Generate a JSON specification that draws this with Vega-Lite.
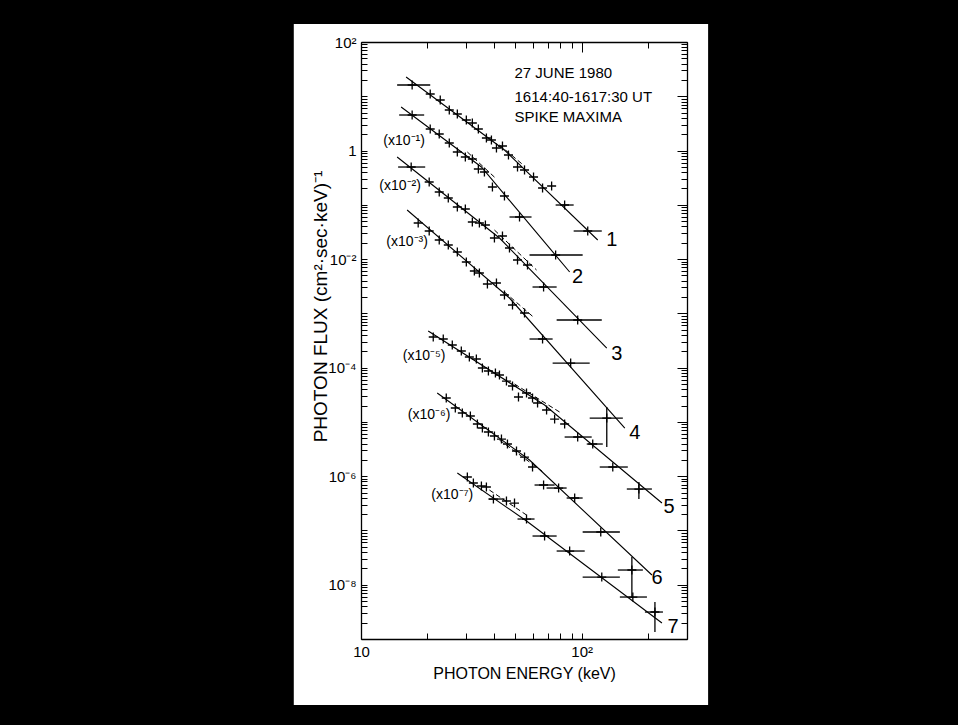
{
  "$schema": "https://vega.github.io/schema/vega-lite/v6.json",
  "width": 326,
  "height": 597,
  "autosize": {"type": "none"},
  "padding": {"left": 361, "top": 42, "right": 271, "bottom": 86},
  "background": "black",
  "config": {"view": {"stroke": null}, "font": "Liberation Sans"},
  "datasets": {
    "pts": [
      {"s":1,"E":17.05,"F":16.13},{"s":1,"E":20.59,"F":11.01},{"s":1,"E":22.86,"F":8.538},{"s":1,"E":25.12,"F":5.585},{"s":1,"E":27.32,"F":4.714},{"s":1,"E":30.01,"F":3.653},{"s":1,"E":31.95,"F":3.217},{"s":1,"E":34.02,"F":2.494},{"s":1,"E":37.0,"F":1.703},{"s":1,"E":38.99,"F":1.564},{"s":1,"E":41.09,"F":1.114},{"s":1,"E":43.75,"F":1.212},{"s":1,"E":46.58,"F":0.8275},{"s":1,"E":51.19,"F":0.4971},{"s":1,"E":55.07,"F":0.4379},{"s":1,"E":60.5,"F":0.3254},{"s":1,"E":66.48,"F":0.204},{"s":1,"E":73.07,"F":0.2221},{"s":1,"E":83.69,"F":0.0992},{"s":1,"E":106.5,"F":0.03292},
      {"s":2,"E":17.05,"F":4.517},{"s":2,"E":20.59,"F":2.494},{"s":2,"E":22.62,"F":2.017},{"s":2,"E":25.12,"F":1.377},{"s":2,"E":27.32,"F":0.94},{"s":2,"E":29.7,"F":0.7603},{"s":2,"E":31.95,"F":0.6984},{"s":2,"E":34.02,"F":0.4569},{"s":2,"E":36.24,"F":0.4024},{"s":2,"E":39.4,"F":0.2129},{"s":2,"E":44.67,"F":0.1453},{"s":2,"E":52.27,"F":0.05963},{"s":2,"E":76.19,"F":0.01189},
      {"s":3,"E":16.88,"F":0.4971},{"s":3,"E":20.37,"F":0.2632},{"s":3,"E":22.62,"F":0.1722},{"s":3,"E":24.86,"F":0.1335},{"s":3,"E":27.32,"F":0.09112},{"s":3,"E":29.7,"F":0.08373},{"s":3,"E":31.95,"F":0.04823},{"s":3,"E":34.39,"F":0.04623},{"s":3,"E":36.61,"F":0.04246},{"s":3,"E":40.23,"F":0.02445},{"s":3,"E":43.75,"F":0.02662},{"s":3,"E":47.07,"F":0.016},{"s":3,"E":51.19,"F":0.009618},{"s":3,"E":56.82,"F":0.007777},{"s":3,"E":67.19,"F":0.003059},{"s":3,"E":95.9,"F":0.0007543},
      {"s":4,"E":18.16,"F":0.04623},{"s":4,"E":20.37,"F":0.03292},{"s":4,"E":22.62,"F":0.02246},{"s":4,"E":24.86,"F":0.01817},{"s":4,"E":27.32,"F":0.0135},{"s":4,"E":30.01,"F":0.008835},{"s":4,"E":32.63,"F":0.00603},{"s":4,"E":34.39,"F":0.005539},{"s":4,"E":37.39,"F":0.003474},{"s":4,"E":41.09,"F":0.003624},{"s":4,"E":44.67,"F":0.002178},{"s":4,"E":48.58,"F":0.001425},{"s":4,"E":55.07,"F":0.001015},{"s":4,"E":66.48,"F":0.0003368},{"s":4,"E":89.13,"F":0.0001216},{"s":4,"E":129.9,"F":0.00001179},
      {"s":5,"E":21.25,"F":0.0003666},{"s":5,"E":23.59,"F":0.0003368},{"s":5,"E":25.92,"F":0.0002611},{"s":5,"E":28.48,"F":0.0002025},{"s":5,"E":30.97,"F":0.0001569},{"s":5,"E":33.32,"F":0.0001442},{"s":5,"E":35.48,"F":0.0000984},{"s":5,"E":37.78,"F":0.00008663},{"s":5,"E":40.65,"F":0.00007959},{"s":5,"E":42.4,"F":0.00007311},{"s":5,"E":45.61,"F":0.00005666},{"s":5,"E":48.58,"F":0.00004584},{"s":5,"E":51.71,"F":0.00002875},{"s":5,"E":56.23,"F":0.00003406},{"s":5,"E":59.87,"F":0.00002756},{"s":5,"E":63.1,"F":0.00002229},{"s":5,"E":69.32,"F":0.00001656},{"s":5,"E":75.39,"F":0.0000113},{"s":5,"E":83.69,"F":0.000009144},{"s":5,"E":95.9,"F":0.000005267},{"s":5,"E":112.2,"F":0.000003914},{"s":5,"E":138.3,"F":0.000001475},{"s":5,"E":181.6,"F":5.799e-7},
      {"s":6,"E":24.34,"F":0.00002756},{"s":6,"E":26.75,"F":0.00001803},{"s":6,"E":28.78,"F":0.00001458},{"s":6,"E":31.3,"F":0.00001284},{"s":6,"E":33.68,"F":0.000009144},{"s":6,"E":35.48,"F":0.000007717},{"s":6,"E":37.78,"F":0.000006512},{"s":6,"E":40.23,"F":0.000005495},{"s":6,"E":43.29,"F":0.000004837},{"s":6,"E":46.09,"F":0.000003914},{"s":6,"E":50.65,"F":0.000002908},{"s":6,"E":55.07,"F":0.000002254},{"s":6,"E":59.87,"F":0.000001475},{"s":6,"E":67.19,"F":6.874e-7},{"s":6,"E":78.6,"F":6.05e-7},{"s":6,"E":92.94,"F":3.959e-7},{"s":6,"E":122.0,"F":9.356e-8},{"s":6,"E":168.8,"F":1.866e-8},
      {"s":7,"E":30.33,"F":9.65e-7},{"s":7,"E":32.3,"F":7.482e-7},{"s":7,"E":35.12,"F":6.588e-7},{"s":7,"E":37.0,"F":6.313e-7},{"s":7,"E":39.81,"F":3.794e-7},{"s":7,"E":45.61,"F":3.486e-7},{"s":7,"E":49.61,"F":3.2e-7},{"s":7,"E":56.23,"F":1.624e-7},{"s":7,"E":67.89,"F":7.896e-8},{"s":7,"E":88.19,"F":4.178e-8},{"s":7,"E":123.3,"F":1.386e-8},{"s":7,"E":170.5,"F":5.934e-9},{"s":7,"E":214.7,"F":3.141e-9}
    ],
    "hbars": [
      {"s":1,"F":16.13,"Elo":14.58,"Ehi":20.59},{"s":1,"F":0.0992,"Elo":76.19,"Ehi":91.96},{"s":1,"F":0.03292,"Elo":91.96,"Ehi":123.3},
      {"s":2,"F":4.517,"Elo":14.89,"Ehi":19.33},{"s":2,"F":0.05963,"Elo":47.07,"Ehi":59.25},{"s":2,"F":0.01189,"Elo":58.02,"Ehi":101.0},
      {"s":3,"F":0.4971,"Elo":14.73,"Ehi":19.54},{"s":3,"F":0.003059,"Elo":59.87,"Ehi":77.0},{"s":3,"F":0.0007543,"Elo":77.0,"Ehi":123.3},
      {"s":4,"F":0.0003368,"Elo":58.02,"Ehi":73.84},{"s":4,"F":0.0001216,"Elo":73.84,"Ehi":108.7},{"s":4,"F":0.00001179,"Elo":108.7,"Ehi":153.6},
      {"s":5,"F":0.000005267,"Elo":83.69,"Ehi":111.0},{"s":5,"F":0.000003914,"Elo":105.4,"Ehi":124.6},{"s":5,"F":0.000001475,"Elo":120.7,"Ehi":161.8},{"s":5,"F":5.799e-7,"Elo":160.1,"Ehi":208.0},
      {"s":6,"F":6.874e-7,"Elo":61.14,"Ehi":75.39},{"s":6,"F":6.05e-7,"Elo":69.32,"Ehi":85.46},{"s":6,"F":3.959e-7,"Elo":85.46,"Ehi":101.0},{"s":6,"F":9.356e-8,"Elo":101.0,"Ehi":148.9},{"s":6,"F":1.866e-8,"Elo":145.8,"Ehi":189.3},
      {"s":7,"F":3.794e-7,"Elo":37.78,"Ehi":44.67},{"s":7,"F":1.624e-7,"Elo":51.19,"Ehi":61.14},{"s":7,"F":7.896e-8,"Elo":59.87,"Ehi":77.0},{"s":7,"F":4.178e-8,"Elo":77.0,"Ehi":103.2},{"s":7,"F":1.386e-8,"Elo":101.0,"Ehi":148.9},{"s":7,"F":5.934e-9,"Elo":148.9,"Ehi":197.5},{"s":7,"F":3.141e-9,"Elo":193.4,"Ehi":233.4}
    ],
    "vbars": [
      {"s":4,"E":129.9,"Flo":0.000003446,"Fhi":0.00001881},
      {"s":5,"E":181.6,"Flo":3.794e-7,"Fhi":7.807e-7},
      {"s":6,"E":168.8,"Flo":5.687e-9,"Fhi":3.238e-8},
      {"s":7,"E":214.7,"Flo":1.344e-9,"Fhi":4.8e-9}
    ],
    "fits": [
      {"s":1,"E":16.01,"F":22.65},{"s":1,"E":44.67,"F":1.023},{"s":1,"E":118.2,"F":0.02246},
      {"s":2,"E":15.2,"F":6.342},{"s":2,"E":35.12,"F":0.4971},{"s":2,"E":88.19,"F":0.005779},
      {"s":3,"E":14.58,"F":0.7603},{"s":3,"E":42.4,"F":0.02445},{"s":3,"E":129.9,"F":0.0002299},
      {"s":4,"E":16.18,"F":0.08025},{"s":4,"E":47.07,"F":0.001918},{"s":4,"E":156.8,"F":0.000007717},
      {"s":5,"E":20.16,"F":0.0004729},{"s":5,"E":67.89,"F":0.00002048},{"s":5,"E":231.0,"F":3.2e-7},
      {"s":6,"E":22.15,"F":0.00003406},{"s":6,"E":58.02,"F":0.000001985},{"s":6,"E":208.0,"F":1.51e-8},
      {"s":7,"E":27.32,"F":0.000001143},{"s":7,"E":56.23,"F":1.492e-7},{"s":7,"E":231.0,"F":1.97e-9}
    ],
    "ext": [
      {"s":1,"E":42.4,"F":1.265},{"s":1,"E":55.07,"F":0.519},
      {"s":2,"E":30.33,"F":0.94},{"s":2,"E":40.65,"F":0.3119},
      {"s":3,"E":40.23,"F":0.03433},{"s":3,"E":62.44,"F":0.006291},
      {"s":4,"E":44.67,"F":0.002474},{"s":4,"E":61.14,"F":0.0008209},
      {"s":5,"E":49.61,"F":0.00004991},{"s":5,"E":79.43,"F":0.00001521},
      {"s":6,"E":42.4,"F":0.000004637},{"s":6,"E":67.89,"F":0.000001143},
      {"s":7,"E":38.18,"F":5.559e-7},{"s":7,"E":56.23,"F":1.924e-7}
    ],
    "nums": [
      {"t":"1","E":136.9,"F":0.02246},{"t":"2","E":95.9,"F":0.004675},{"t":"3","E":144.2,"F":0.0001782},{"t":"4","E":174.1,"F":0.000006243},{"t":"5","E":248.6,"F":2.703e-7},{"t":"6","E":219.3,"F":1.328e-8},{"t":"7","E":259.2,"F":1.662e-9}
    ],
    "mults": [
      {"t":"(x10⁻¹)","E":15.68,"F":1.499},{"t":"(x10⁻²)","E":15.04,"F":0.2221},{"t":"(x10⁻³)","E":16.18,"F":0.02064},{"t":"(x10⁻⁵)","E":19.33,"F":0.0001637},{"t":"(x10⁻⁶)","E":20.37,"F":0.00001339},{"t":"(x10⁻⁷)","E":25.92,"F":4.495e-7}
    ],
    "notes": [
      {"t":"27 JUNE 1980","E":49.61,"F":26.84},{"t":"1614:40-1617:30 UT","E":49.61,"F":9.696},{"t":"SPIKE MAXIMA","E":49.61,"F":4.15}
    ]
  },
  "layer": [
    {
      "data": {"values": [{}]},
      "mark": {"type": "rect", "color": "white"},
      "encoding": {
        "x": {"datum": 4.96, "type": "quantitative", "scale": {"type": "log", "domain": [10, 300]}, "axis": null},
        "x2": {"datum": 373.9},
        "y": {"datum": 214.7, "type": "quantitative", "scale": {"type": "log", "domain": [1e-9, 100]}, "axis": null},
        "y2": {"datum": 6.07e-11}
      }
    },
    {
      "data": {"name": "fits"},
      "mark": {"type": "line", "color": "black", "strokeWidth": 1.1},
      "encoding": {
        "x": {"field": "E", "type": "quantitative", "scale": {"type": "log", "domain": [10, 300]},
          "axis": {"orient": "bottom", "zindex": 2, "values": [10,20,30,40,50,60,70,80,90,100,200,300],
            "labelExpr": "datum.value==10?'10':datum.value==100?'10²':''",
            "tickSize": -6, "tickColor": "black", "tickWidth": 1, "domainColor": "black", "domainWidth": 1.3,
            "labelColor": "black", "labelFont": "Liberation Sans", "labelFontSize": 15, "labelPadding": 11,
            "labelFlush": false, "labelOverlap": false, "grid": false,
            "title": "PHOTON ENERGY (keV)", "titleFont": "Liberation Sans", "titleFontSize": 16, "titleFontWeight": "normal", "titleColor": "black", "titlePadding": 6}},
        "y": {"field": "F", "type": "quantitative", "scale": {"type": "log", "domain": [1e-9, 100]},
          "axis": {"orient": "left", "zindex": 2,
            "values": [1e-9,2e-9,3e-9,4e-9,5e-9,6e-9,7e-9,8e-9,9e-9,1e-8,2e-8,3e-8,4e-8,5e-8,6e-8,7e-8,8e-8,9e-8,1e-7,2e-7,3e-7,4e-7,5e-7,6e-7,7e-7,8e-7,9e-7,1e-6,2e-6,3e-6,4e-6,5e-6,6e-6,7e-6,8e-6,9e-6,1e-5,2e-5,3e-5,4e-5,5e-5,6e-5,7e-5,8e-5,9e-5,1e-4,2e-4,3e-4,4e-4,5e-4,6e-4,7e-4,8e-4,9e-4,1e-3,2e-3,3e-3,4e-3,5e-3,6e-3,7e-3,8e-3,9e-3,1e-2,2e-2,3e-2,4e-2,5e-2,6e-2,7e-2,8e-2,9e-2,0.1,0.2,0.3,0.4,0.5,0.6,0.7,0.8,0.9,1,2,3,4,5,6,7,8,9,10,20,30,40,50,60,70,80,90,100],
            "labelExpr": "datum.value==100?'10²':datum.value==1?'1':datum.value==0.01?'10⁻²':datum.value==0.0001?'10⁻⁴':datum.value==0.000001?'10⁻⁶':datum.value==0.00000001?'10⁻⁸':''",
            "tickSize": -6, "tickColor": "black", "tickWidth": 1, "domainColor": "black", "domainWidth": 1.3,
            "labelColor": "black", "labelFont": "Liberation Sans", "labelFontSize": 15, "labelPadding": 11,
            "labelFlush": false, "labelOverlap": false, "grid": false,
            "title": "PHOTON FLUX (cm²·sec·keV)⁻¹", "titleFont": "Liberation Sans", "titleFontSize": 19, "titleFontWeight": "normal", "titleColor": "black",
            "titleX": -41, "titleY": 264, "titleAngle": -90, "titleAlign": "center", "titleBaseline": "middle"}},
        "detail": {"field": "s"}
      }
    },
    {
      "data": {"name": "ext"},
      "mark": {"type": "line", "color": "black", "strokeWidth": 1, "strokeDash": [5, 3]},
      "encoding": {
        "x": {"field": "E", "type": "quantitative", "scale": {"type": "log", "domain": [10, 300]}, "axis": null},
        "y": {"field": "F", "type": "quantitative", "scale": {"type": "log", "domain": [1e-9, 100]}, "axis": null},
        "detail": {"field": "s"}
      }
    },
    {
      "data": {"name": "hbars"},
      "mark": {"type": "rule", "color": "black", "strokeWidth": 1.3},
      "encoding": {
        "x": {"field": "Elo", "type": "quantitative", "scale": {"type": "log", "domain": [10, 300]}, "axis": null},
        "x2": {"field": "Ehi"},
        "y": {"field": "F", "type": "quantitative", "scale": {"type": "log", "domain": [1e-9, 100]}, "axis": null}
      }
    },
    {
      "data": {"name": "vbars"},
      "mark": {"type": "rule", "color": "black", "strokeWidth": 1.3},
      "encoding": {
        "x": {"field": "E", "type": "quantitative", "scale": {"type": "log", "domain": [10, 300]}, "axis": null},
        "y": {"field": "Flo", "type": "quantitative", "scale": {"type": "log", "domain": [1e-9, 100]}, "axis": null},
        "y2": {"field": "Fhi"}
      }
    },
    {
      "data": {"name": "pts"},
      "mark": {"type": "point", "shape": "M-1,0L1,0M0,-1L0,1", "size": 81, "filled": false, "stroke": "black", "strokeWidth": 1.3, "opacity": 1},
      "encoding": {
        "x": {"field": "E", "type": "quantitative", "scale": {"type": "log", "domain": [10, 300]},
          "axis": {"orient": "top", "zindex": 2, "values": [10,20,30,40,50,60,70,80,90,100,200,300], "labels": false, "title": null,
            "tickSize": {"condition": {"test": "datum.value==10||datum.value==100", "value": -10}, "value": -6}, "tickColor": "black", "domainColor": "black", "domainWidth": 1.3, "grid": false}},
        "y": {"field": "F", "type": "quantitative", "scale": {"type": "log", "domain": [1e-9, 100]},
          "axis": {"orient": "right", "zindex": 2,
            "values": [1e-9,2e-9,3e-9,4e-9,5e-9,6e-9,7e-9,8e-9,9e-9,1e-8,2e-8,3e-8,4e-8,5e-8,6e-8,7e-8,8e-8,9e-8,1e-7,2e-7,3e-7,4e-7,5e-7,6e-7,7e-7,8e-7,9e-7,1e-6,2e-6,3e-6,4e-6,5e-6,6e-6,7e-6,8e-6,9e-6,1e-5,2e-5,3e-5,4e-5,5e-5,6e-5,7e-5,8e-5,9e-5,1e-4,2e-4,3e-4,4e-4,5e-4,6e-4,7e-4,8e-4,9e-4,1e-3,2e-3,3e-3,4e-3,5e-3,6e-3,7e-3,8e-3,9e-3,1e-2,2e-2,3e-2,4e-2,5e-2,6e-2,7e-2,8e-2,9e-2,0.1,0.2,0.3,0.4,0.5,0.6,0.7,0.8,0.9,1,2,3,4,5,6,7,8,9,10,20,30,40,50,60,70,80,90,100],
            "labels": false, "title": null,
            "tickSize": {"condition": {"test": "abs(log(datum.value)/LN10 - round(log(datum.value)/LN10)) < 0.001", "value": -10}, "value": -6},
            "tickColor": "black", "domainColor": "black", "domainWidth": 1.3, "grid": false}}
      }
    },
    {
      "data": {"name": "nums"},
      "mark": {"type": "text", "color": "black", "font": "Liberation Sans", "fontSize": 20, "align": "center", "baseline": "middle"},
      "encoding": {
        "x": {"field": "E", "type": "quantitative", "scale": {"type": "log", "domain": [10, 300]}, "axis": null},
        "y": {"field": "F", "type": "quantitative", "scale": {"type": "log", "domain": [1e-9, 100]}, "axis": null},
        "text": {"field": "t"}
      }
    },
    {
      "data": {"name": "mults"},
      "mark": {"type": "text", "color": "black", "font": "Liberation Sans", "fontSize": 14, "align": "center", "baseline": "middle"},
      "encoding": {
        "x": {"field": "E", "type": "quantitative", "scale": {"type": "log", "domain": [10, 300]}, "axis": null},
        "y": {"field": "F", "type": "quantitative", "scale": {"type": "log", "domain": [1e-9, 100]}, "axis": null},
        "text": {"field": "t"}
      }
    },
    {
      "data": {"name": "notes"},
      "mark": {"type": "text", "color": "black", "font": "Liberation Sans", "fontSize": 15, "align": "left", "baseline": "middle"},
      "encoding": {
        "x": {"field": "E", "type": "quantitative", "scale": {"type": "log", "domain": [10, 300]}, "axis": null},
        "y": {"field": "F", "type": "quantitative", "scale": {"type": "log", "domain": [1e-9, 100]}, "axis": null},
        "text": {"field": "t"}
      }
    }
  ],
  "resolve": {"axis": {"x": "independent", "y": "independent"}}
}
